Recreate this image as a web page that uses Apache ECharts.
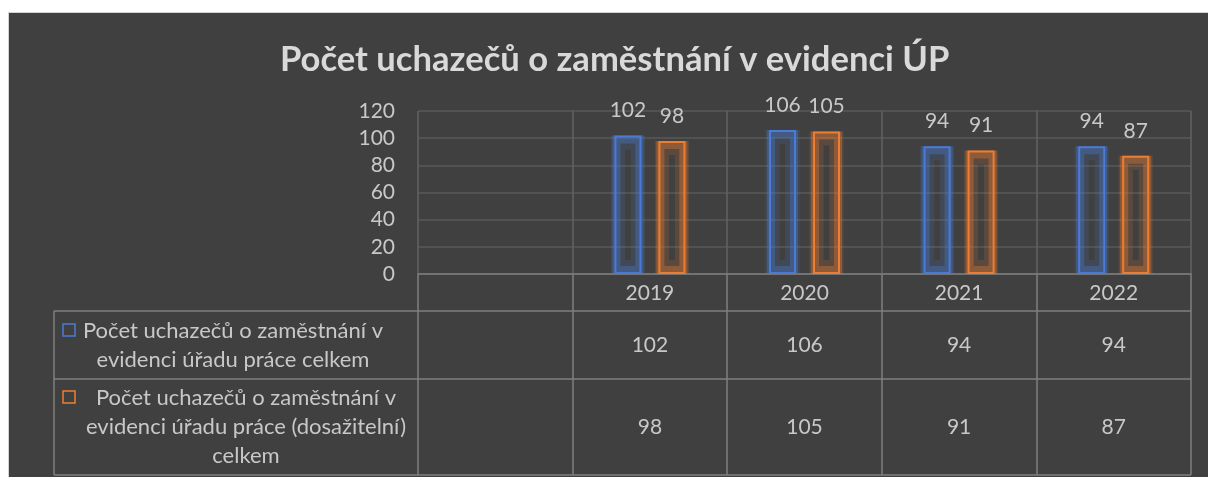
<!DOCTYPE html>
<html>
<head>
<meta charset="utf-8">
<script src="https://cdn.jsdelivr.net/npm/echarts@6/dist/echarts.min.js"></script>
<style>
    body { margin: 0; background: #ffffff; }
    #panel { position: absolute; left: 8px; top: 12px; width: 1200px; height: 465px;
             background: #404040; border-left: 1px solid #d4d4d4; border-top: 1px solid #d4d4d4; }
    #chart { position: absolute; left: 0; top: 0; width: 1208px; height: 477px; }
</style>
</head>
<body>
<div id="panel"></div>
<div id="chart"></div>
<script>
// data
const roky = ['', '2019', '2020', '2021', '2022'];
const celkem = [null, 102, 106, 94, 94];
const dosazitelni = [null, 98, 105, 91, 87];
const yTicks = [0, 20, 40, 60, 80, 100, 120];
const nazevCelkem = 'Počet uchazečů o zaměstnání v\nevidenci úřadu práce celkem';
const nazevDosazitelni = 'Počet uchazečů o zaměstnání v\nevidenci úřadu práce (dosažitelní)\ncelkem';

const FONT = 'Lato';
const TEXT = '#c8c8c8';
const TABLE_LINE = '#7f7f7f';
const BLUE = '#4a7bd6';
const ORANGE = '#ed7d31';

// table layout (px)
const tableLeft = 54, tableRight = 1191;
const rowTops = [311, 379, 475];
const gridLeft = 418;
const BAR_W = 27, BAR_STEP = 44;   // bar width and distance between the two bars of a year

const initChart = () => {
    const chart = echarts.init(document.getElementById('chart'));

    const valueAxis = (offset, values) => ({
        type: 'category',
        data: roky,
        position: 'bottom',
        offset: offset,
        axisLine: { show: false },
        axisTick: { show: false },
        splitLine: { show: false },
        axisLabel: {
            interval: 0, margin: 9, color: TEXT, fontFamily: FONT, fontSize: 21,
            formatter: (v, i) => values[i] == null ? '' : String(values[i])
        }
    });

    const barSerie = (name, data, color) => ({
        name: name,
        type: 'bar',
        data: data,
        barWidth: BAR_W,
        barGap: ((BAR_STEP - BAR_W) / BAR_W * 100) + '%',
        z: 4,
        itemStyle: { color: 'none', borderColor: color, borderWidth: 2 },
        label: {
            show: true, position: 'top', distance: 13,
            color: TEXT, fontFamily: FONT, fontSize: 21
        }
    });

    // soft halo round each bar: the same data on hidden overlay axes,
    // a wider bar whose (inset) border sits centred on the real border
    const glowSerie = (data, glow, axis, spread) => {
        const w = BAR_W + spread;
        return {
            type: 'bar',
            data: data,
            xAxisIndex: axis,
            barWidth: w,
            barGap: ((BAR_STEP - w) / w * 100) + '%',
            z: 2,
            silent: true,
            itemStyle: { color: 'none', borderColor: glow, borderWidth: spread * 2 }
        };
    };

    const hLine = (y, x1) => ({
        type: 'line', silent: true,
        shape: { x1: x1, y1: y, x2: tableRight, y2: y },
        style: { stroke: TABLE_LINE, lineWidth: 1.5 }
    });

    const rowHeader = (text, x, y) => ({
        type: 'text', silent: true,
        x: x, y: y,
        style: {
            text: text,
            align: 'center', verticalAlign: 'middle',
            fill: TEXT, font: '22px ' + FONT, lineHeight: 29
        }
    });

    const legendKey = (color, y) => ({
        type: 'rect', silent: true,
        shape: { x: 63, y: y - 6, width: 12, height: 12 },
        style: { fill: 'none', stroke: color, lineWidth: 1.5 }
    });

    chart.setOption({
        backgroundColor: 'transparent',
        textStyle: { fontFamily: FONT },
        title: {
            text: 'Počet uchazečů o zaměstnání v evidenci ÚP',
            left: 275,
            top: 37,
            textStyle: { color: '#d9d9d9', fontFamily: FONT, fontSize: 34.6, fontWeight: 'bold' }
        },
        grid: { left: gridLeft, right: 1208 - tableRight, top: 111, bottom: 477 - 274 },
        xAxis: [
            {
                type: 'category',
                data: roky,
                axisLine: { show: true, lineStyle: { color: TABLE_LINE, width: 1.5 } },
                axisTick: { show: true, interval: 0, inside: false, length: 475 - 274,
                            lineStyle: { color: TABLE_LINE, width: 1.5 } },
                splitLine: { show: true, interval: 0, lineStyle: { color: '#626262', width: 1.5 } },
                axisLabel: { interval: 0, margin: 9, color: TEXT, fontFamily: FONT, fontSize: 21 }
            },
            valueAxis(52, celkem),
            valueAxis(134, dosazitelni),
            { type: 'category', data: roky, show: false },
            { type: 'category', data: roky, show: false }
        ],
        yAxis: {
            type: 'value',
            min: yTicks[0],
            max: yTicks[yTicks.length - 1],
            interval: yTicks[1] - yTicks[0],
            axisLine: { show: false },
            axisTick: { show: false },
            axisLabel: { margin: 23, color: TEXT, fontFamily: FONT, fontSize: 21 },
            splitLine: { lineStyle: { color: '#595959', width: 1.5 } }
        },
        series: [
            barSerie('Počet uchazečů o zaměstnání v evidenci úřadu práce celkem', celkem, BLUE),
            barSerie('Počet uchazečů o zaměstnání v evidenci úřadu práce (dosažitelní) celkem', dosazitelni, ORANGE),
            glowSerie(celkem, 'rgba(74,123,214,0.34)', 3, 4),
            glowSerie(dosazitelni, 'rgba(237,125,49,0.34)', 3, 4),
            glowSerie(celkem, 'rgba(74,123,214,0.16)', 4, 7),
            glowSerie(dosazitelni, 'rgba(237,125,49,0.16)', 4, 7)
        ],
        graphic: [
            hLine(rowTops[0], tableLeft),
            hLine(rowTops[1], tableLeft),
            hLine(rowTops[2], tableLeft),
            {
                type: 'line', silent: true,
                shape: { x1: tableLeft, y1: rowTops[0], x2: tableLeft, y2: rowTops[2] },
                style: { stroke: TABLE_LINE, lineWidth: 1.5 }
            },
            legendKey(BLUE, 330),
            rowHeader(nazevCelkem, 233, (rowTops[0] + rowTops[1]) / 2),
            legendKey(ORANGE, 397),
            rowHeader(nazevDosazitelni, 246, (rowTops[1] + rowTops[2]) / 2)
        ]
    });
};

window.addEventListener('load', () => {
    initChart();
});
</script>
</body>
</html>
